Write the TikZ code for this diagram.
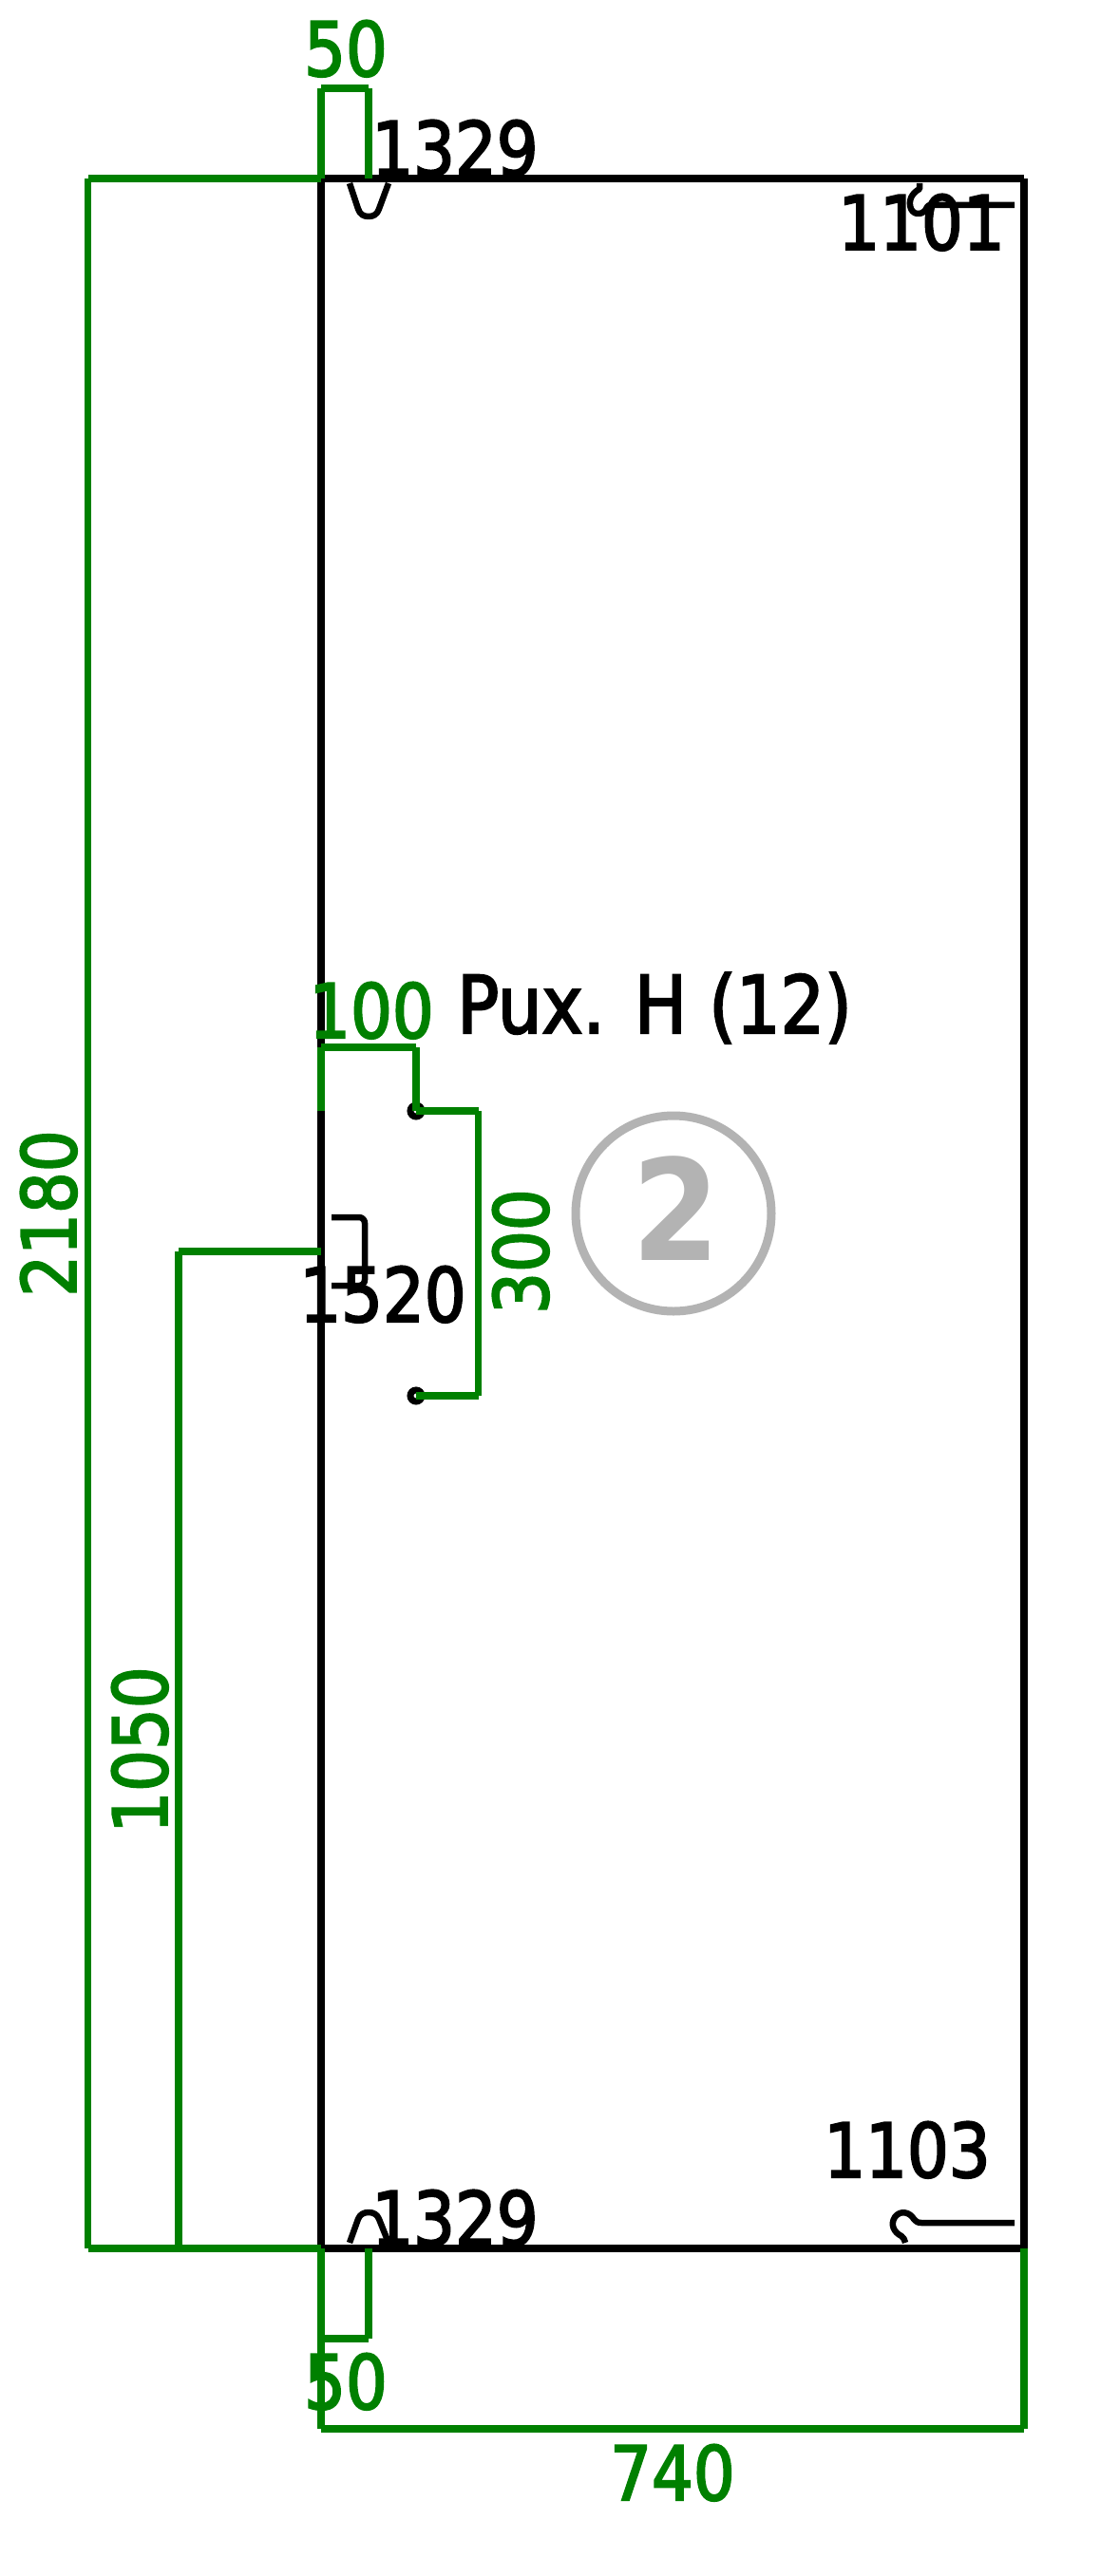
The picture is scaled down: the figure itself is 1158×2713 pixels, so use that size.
\documentclass[tikz,border=0pt]{standalone}
\usepackage{fontspec}
\setmainfont[FakeBold=2.5,FakeStretch=0.97]{DejaVu Sans Condensed}
\newfontfamily\markfont{DejaVu Sans Condensed Bold}
\definecolor{dimgreen}{HTML}{008000}
\definecolor{markgray}{HTML}{B3B3B3}
\tikzset{
  x=1pt,y=-1pt,
  edgeline/.style={draw=black,line width=7.5pt,line cap=butt},
  partline/.style={draw=black,line width=6.5pt,line cap=butt,line join=round},
  dimline/.style={draw=dimgreen,line width=7.5pt,line cap=butt},
  lbl/.style={inner sep=0pt,outer sep=0pt,anchor=base,text=black,font=\fontsize{79}{90}\selectfont},
  dimlbl/.style={lbl,text=dimgreen},
}
\begin{document}
\begin{tikzpicture}
\useasboundingbox (0,0) rectangle (1158,2713);
% panel outline
\draw[edgeline] (338,188) -- (1078,188);
\draw[edgeline] (1078,188) -- (1078,2368);
\draw[edgeline] (1078,2368) -- (338,2368);
\draw[edgeline] (338,2368) -- (338,188);
% notches
\draw[partline] (368,193) -- (377,220) .. controls (379,226) and (383,228) .. (388,228) .. controls (393,228) and (397,226) .. (399,220) -- (409,193);
\draw[partline] (368,2362) -- (377,2337) .. controls (379,2332) and (383,2330) .. (388,2330) .. controls (393,2330) and (397,2332) .. (399,2337) -- (409,2362);
% hooks
\draw[partline] (1068,2341) -- (970,2341) .. controls (966,2341) and (965,2340) .. (962,2337) .. controls (958,2330) and (948,2327) .. (942,2335) .. controls (937,2343) and (941,2351) .. (949,2355) .. controls (951,2357) and (953,2359) .. (953,2362);
\draw[partline] (1068,216) -- (980,216) .. controls (978,216) and (977,216) .. (976,218) .. controls (973,226) and (963,228) .. (959,220) .. controls (956,212) and (959,204) .. (968,199) -- (968,193);
% pocket
\draw[partline,rounded corners=6pt] (349,1282) -- (384,1282) -- (384,1354) -- (349,1354);
% holes
\node[circle,draw=black,fill=white,line width=7pt,minimum size=12pt,inner sep=0pt] (holeA) at (438,1170) {};
\node[circle,draw=black,fill=white,line width=7pt,minimum size=12pt,inner sep=0pt] (holeB) at (438,1470) {};
% dimensions
\draw[dimline] (338,188) -- (338,93);
\draw[dimline] (338,93) -- (388,93);
\draw[dimline] (388,93) -- (388,188);
\draw[dimline] (338,188) -- (92.5,188);
\draw[dimline] (92.5,188) -- (92.5,2368);
\draw[dimline] (92.5,2368) -- (338,2368);
\draw[dimline] (338,1318) -- (188,1318);
\draw[dimline] (188,1318) -- (188,2368);
\draw[dimline] (338,2368) -- (338,2463);
\draw[dimline] (338,2463) -- (388,2463);
\draw[dimline] (388,2463) -- (388,2368);
\draw[dimline] (338,2368) -- (338,2558);
\draw[dimline] (338,2558) -- (1078,2558);
\draw[dimline] (1078,2558) -- (1078,2368);
\draw[dimline] (338,1170) -- (338,1103);
\draw[dimline] (338,1103) -- (438,1103);
\draw[dimline] (438,1103) -- (438,1170);
\draw[dimline] (438,1170) -- (503.5,1170);
\draw[dimline] (503.5,1170) -- (503.5,1470);
\draw[dimline] (503.5,1470) -- (438,1470);
% mark
\node[circle,draw=markgray,line width=9pt,minimum size=206pt,inner sep=0pt] (mark) at (709,1278) {};
\node[lbl,text=markgray,font=\fontsize{148}{160}\markfont] (markno) at (712,1327) {2};
% labels
\node[dimlbl] (d50a) at (364,80) {50};
\node[dimlbl] (d50b) at (364,2537) {50};
\node[dimlbl] (d100) at (391,1093) {100};
\node[dimlbl] (d740) at (708,2633) {740};
\node[dimlbl,rotate=90] (d2180) at (80,1278) {2180};
\node[dimlbl,rotate=90] (d1050) at (176,1843) {1050};
\node[dimlbl,rotate=90] (d300) at (577,1318) {300};
\node[lbl] (t1329a) at (479,185) {1329};
\node[lbl] (t1329b) at (479,2365) {1329};
\node[lbl] (t1101) at (970,263) {1101};
\node[lbl] (t1103) at (955,2293) {1103};
\node[lbl] (t1520) at (403,1392) {1520};
\node[lbl,font=\fontsize{84}{90}\selectfont] (tpux) at (689,1088) {Pux. H (12)};
\end{tikzpicture}
\end{document}
